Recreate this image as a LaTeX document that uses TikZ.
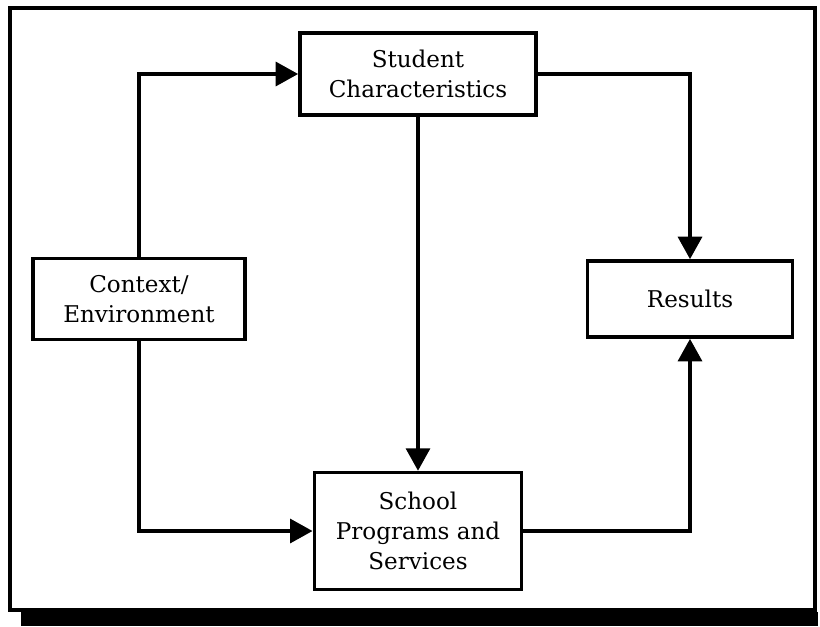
\documentclass[tikz,border=0pt]{standalone}
\usepackage{fontspec}
\setmainfont{DejaVu Serif}
\usetikzlibrary{arrows.meta}
\tikzset{
  box/.style={draw, line width=2.6pt, align=center, inner sep=0pt,
    font=\fontsize{16.4}{21.3}\selectfont},
  link/.style={line width=2.6pt, -{Triangle[length=16pt, width=17pt]}}
}

\begin{document}
\begin{tikzpicture}[x=0.025cm, y=-0.025cm]
  \useasboundingbox (0,0) rectangle (820,626);
  % outer frame with its dark bottom bar
  \draw[line width=2.6pt] (10,8) rectangle (815,610);
  \fill (21,612) rectangle (818,626);

  \node[box, minimum width=5.9cm, minimum height=2.05cm] (student) at (418,74) {Student\\Characteristics};
  \node[box, minimum width=5.3cm, minimum height=2.02cm] (context) at (139,299) {Context/\\Environment};
  \node[box, minimum width=5.12cm, minimum height=1.9cm] (results) at (690,299) {Results};
  \node[box, minimum width=5.18cm, minimum height=2.92cm] (school) at (418,531) {School\\Programs and\\Services};

  \draw[link] (context.north) |- (student.west);
  \draw[link] (student.east) -| (results.north);
  \draw[link] (student.south) -- (school.north);
  \draw[link] (context.south) |- (school.west);
  \draw[link] (school.east) -| (results.south);
\end{tikzpicture}
\end{document}
